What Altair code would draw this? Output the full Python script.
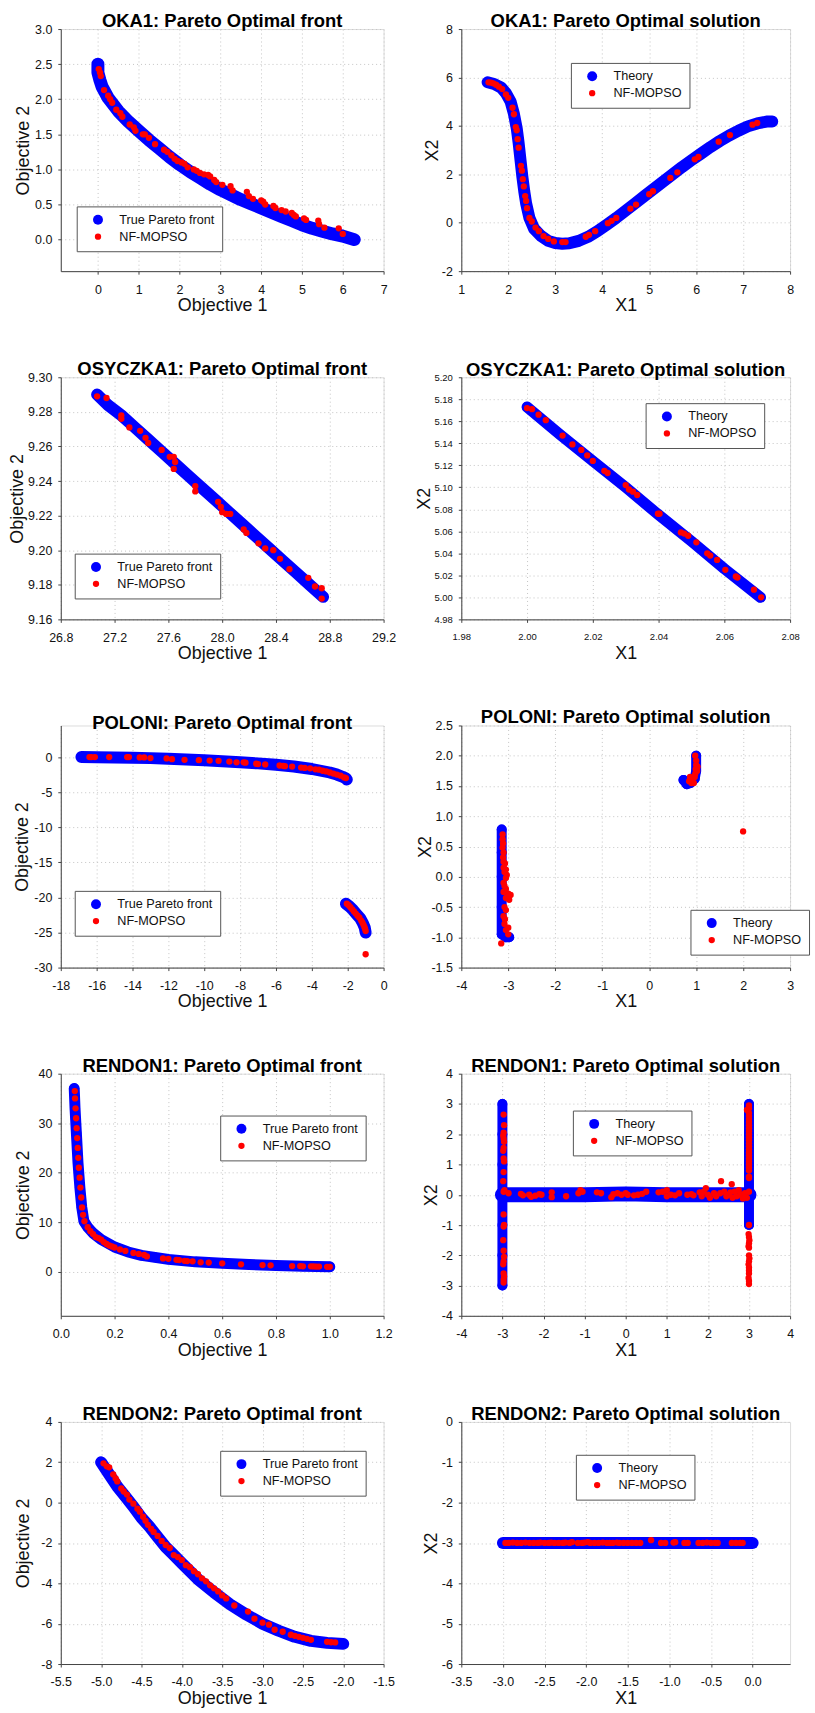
import altair as alt
import pandas as pd

FONT = "Liberation Sans"
BLUE = "#0000ff"
RED = "#ff0000"

# ---------------- data ----------------
# OKA1 front
OKA1F_TX = [0.0, 0.0, 0.05, 0.1, 0.25, 0.5, 0.75, 1.0, 1.25, 1.5, 1.75, 2.0, 2.25, 2.5, 2.75, 3.0, 3.25,
            3.5, 3.75, 4.0, 4.25, 4.5, 4.75, 5.0, 5.25, 5.5, 5.75, 6.0, 6.28]
OKA1F_TY = [2.5, 2.38, 2.27, 2.18, 2.02, 1.83, 1.68, 1.55, 1.42, 1.3, 1.18, 1.07, 0.97, 0.88, 0.79, 0.71, 0.64,
            0.57, 0.51, 0.45, 0.39, 0.33, 0.27, 0.21, 0.16, 0.12, 0.08, 0.05, 0.0]
OKA1F_TS = [0] * len(OKA1F_TX)
OKA1F_RX = [0.02, 0.05, 0.07, 0.15, 0.25, 0.3, 0.35, 0.45, 0.55, 0.6, 0.78, 0.88, 0.92, 1.1, 1.15, 1.25, 1.4,
            1.62, 1.7, 1.8, 1.88, 1.95, 2.05, 2.12, 2.2, 2.35, 2.42, 2.5, 2.6, 2.7, 2.75, 2.85, 2.9, 3.05,
            3.25, 3.3, 3.65, 3.7, 3.8, 4.0, 4.05, 4.1, 4.3, 4.35, 4.5, 4.6, 4.75, 4.8, 4.85, 5.05, 5.1,
            5.4, 5.42, 5.55, 5.9, 6.0]
OKA1F_RY = [2.43, 2.38, 2.33, 2.13, 2.05, 2.0, 1.95, 1.85, 1.8, 1.75, 1.64, 1.6, 1.55, 1.5, 1.5, 1.45, 1.36,
            1.28, 1.25, 1.2, 1.15, 1.12, 1.1, 1.08, 1.03, 1.0, 0.98, 0.95, 0.93, 0.92, 0.9, 0.85, 0.82, 0.78,
            0.76, 0.7, 0.68, 0.62, 0.58, 0.56, 0.54, 0.5, 0.48, 0.45, 0.42, 0.4, 0.38, 0.35, 0.33, 0.3, 0.28,
            0.27, 0.22, 0.17, 0.16, 0.08]

# OKA1 solution
OKA1S_TX = [1.56, 1.7, 1.85, 1.95, 2.05, 2.12, 2.18, 2.22, 2.26, 2.3, 2.34, 2.38, 2.45, 2.55, 2.7, 2.85, 3.0,
            3.15, 3.3, 3.5, 3.7, 3.9, 4.1, 4.3, 4.5, 4.7, 4.9, 5.1, 5.3, 5.5, 5.7, 5.9, 6.1, 6.3, 6.5, 6.7,
            6.9, 7.1, 7.3, 7.5, 7.62]
OKA1S_TY = [5.8, 5.73, 5.58, 5.35, 5.0, 4.5, 3.9, 3.3, 2.6, 1.9, 1.3, 0.8, 0.2, -0.25, -0.55, -0.75, -0.84,
            -0.87, -0.85, -0.75, -0.58, -0.35, -0.08, 0.2, 0.5, 0.8, 1.1, 1.4, 1.7, 2.0, 2.3, 2.58, 2.85, 3.12,
            3.37, 3.6, 3.8, 3.98, 4.1, 4.18, 4.18]
OKA1S_TS = [0] * len(OKA1S_TX)
OKA1S_RX = [1.58, 1.63, 1.68, 1.74, 1.8, 1.87, 1.95, 2.0, 2.09, 2.12, 2.16, 2.18, 2.2, 2.22, 2.27, 2.29, 2.31,
            2.33, 2.36, 2.38, 2.4, 2.45, 2.5, 2.58, 2.65, 2.75, 2.85, 2.97, 3.15, 3.22, 3.65, 3.72, 3.85,
            4.12, 4.2, 4.3, 4.6, 4.72, 5.0, 5.08, 5.45, 5.6, 5.97, 6.05, 6.48, 6.72, 7.2, 7.3]
OKA1S_RY = [5.8, 5.79, 5.76, 5.7, 5.62, 5.52, 5.3, 5.16, 4.75, 4.48, 3.95, 3.82, 3.45, 3.1, 2.35, 2.15, 1.8,
            1.5, 1.1, 0.9, 0.6, 0.2, 0.05, -0.2, -0.35, -0.55, -0.67, -0.77, -0.8, -0.8, -0.58, -0.5, -0.35,
            -0.02, 0.08, 0.2, 0.58, 0.75, 1.18, 1.3, 1.85, 2.08, 2.62, 2.72, 3.35, 3.62, 4.05, 4.12]

# OSYCZKA1 front
OSYF_TX = [27.07, 27.15, 27.25, 27.35, 27.45, 27.55, 27.65, 27.75, 27.85, 27.95, 28.05, 28.15, 28.25, 28.35,
           28.45, 28.55, 28.65, 28.75]
OSYF_TY = [9.290, 9.284, 9.278, 9.271, 9.264, 9.257, 9.250, 9.243, 9.236, 9.229, 9.222, 9.215, 9.208, 9.201,
           9.194, 9.187, 9.180, 9.173]
OSYF_TS = [0] * len(OSYF_TX)
OSYF_RX = [27.07, 27.14, 27.25, 27.25, 27.31, 27.39, 27.43, 27.45, 27.55, 27.61, 27.64, 27.65, 27.64, 27.8,
           27.8, 27.97, 27.99, 28.0, 28.03, 28.06, 28.16, 28.18, 28.27, 28.32, 28.38, 28.43, 28.5, 28.64,
           28.69, 28.74, 28.74]
OSYF_RY = [9.289, 9.288, 9.278, 9.276, 9.271, 9.269, 9.265, 9.262, 9.258, 9.254, 9.254, 9.251, 9.247, 9.237,
           9.234, 9.228, 9.225, 9.222, 9.221, 9.221, 9.212, 9.210, 9.204, 9.201, 9.200, 9.195, 9.189, 9.184,
           9.179, 9.178, 9.172]

# OSYCZKA1 solution
OSYS_TX = [2.0, 2.01, 2.02, 2.03, 2.04, 2.05, 2.06, 2.071]
OSYS_TY = [5.173, 5.148, 5.124, 5.100, 5.075, 5.051, 5.026, 5.0]
OSYS_TS = [0] * len(OSYS_TX)
OSYS_RX = [2.0, 2.0015, 2.0035, 2.0057, 2.0108, 2.0138, 2.0165, 2.0183, 2.0200, 2.0235, 2.0245, 2.0300,
           2.0310, 2.0322, 2.0335, 2.0398, 2.0403, 2.0468, 2.0478, 2.0490, 2.0515, 2.0548, 2.0557, 2.0578,
           2.0603, 2.0635, 2.0640, 2.0690, 2.0712]
OSYS_RY = [5.172, 5.171, 5.166, 5.161, 5.147, 5.139, 5.134, 5.129, 5.124, 5.115, 5.113, 5.102, 5.098, 5.096,
           5.093, 5.076, 5.076, 5.059, 5.058, 5.056, 5.050, 5.040, 5.038, 5.034, 5.025, 5.019, 5.018, 5.007,
           5.000]

# POLONI front
POLF_TX = [-16.85, -16, -15, -14, -13, -12, -11, -10, -9, -8, -7, -6, -5, -4, -3.5, -3, -2.6, -2.3, -2.1, -2.05,
           -2.1, -1.9, -1.7, -1.5, -1.3, -1.15, -1.05, -1.0]
POLF_TY = [0.0, -0.02, -0.05, -0.1, -0.15, -0.25, -0.35, -0.45, -0.6, -0.75, -0.9, -1.1, -1.35, -1.7, -1.95,
           -2.2, -2.5, -2.8, -3.05, -3.2,
           -20.9, -21.3, -21.8, -22.4, -23.0, -23.7, -24.3, -25.0]
POLF_TS = [0] * 20 + [1] * 8
POLF_RX = [-16.4, -16.3, -16.1, -15.3, -14.3, -14.2, -13.6, -13.35, -13.0, -12.1, -11.8, -11.1, -10.3, -9.7,
           -9.2, -8.6, -8.2, -7.8, -7.7, -7.1, -7.0, -6.6, -5.8, -5.6, -5.5, -5.1, -4.6, -4.4, -4.1, -3.8,
           -3.6, -3.4, -3.2, -3.0, -2.8, -2.6, -2.4, -2.2, -2.1,
           -2.05, -1.95, -1.85, -1.75, -1.65, -1.55, -1.45, -1.35, -1.25, -1.18, -1.12, -1.07, -1.03, -1.0,
           -1.0]
POLF_RY = [0.0, 0.0, 0.0, 0.0, 0.0, 0.0, -0.05, -0.05, -0.15, -0.2, -0.3, -0.4, -0.45, -0.5, -0.55, -0.65,
           -0.75, -0.75, -0.8, -0.95, -1.0, -1.05, -1.2, -1.25, -1.3, -1.35, -1.5, -1.55, -1.6, -1.75, -1.8,
           -1.95, -2.05, -2.2, -2.35, -2.5, -2.65, -2.9, -3.0,
           -20.9, -21.1, -21.4, -21.7, -22.0, -22.3, -22.6, -22.9, -23.3, -23.6, -23.9, -24.2, -24.5, -24.8,
           -28.1]

# POLONI solution
POLS_TX = [-3.14, -3.14, -3.14, -3.14, -3.14, -3.05, -2.98, 0.73, 0.8, 0.88, 0.97, 1.0, 1.0]
POLS_TY = [0.78, 0.4, 0.0, -0.5, -0.95, -1.0, -1.0, 1.6, 1.53, 1.55, 1.62, 1.75, 2.0]
POLS_TS = [0] * 7 + [1] * 6
POLS_RX = [-3.12, -3.12, -3.11, -3.12, -3.1, -3.11, -3.1, -3.07, -3.1, -3.05, -3.08, -3.03, -3.05, -3.1, -3.08,
           -3.05, -3.1, -3.0, -2.95, -3.05, -2.98, -3.08, -3.05, -3.1, -3.07, -3.08, -3.0, -3.05, -3.0, -3.15,
           0.85, 0.88, 0.92, 0.95, 0.97, 0.98, 0.99, 1.0, 1.0, 0.98, 1.02, 0.9, 0.87, 1.03, 2.0]
POLS_RY = [0.7, 0.62, 0.55, 0.48, 0.4, 0.32, 0.25, 0.22, 0.15, 0.12, 0.08, 0.03, -0.02, -0.1, -0.15, -0.2,
           -0.25, -0.28, -0.3, -0.35, -0.38, -0.5, -0.55, -0.65, -0.7, -0.78, -0.84, -0.88, -0.95, -1.1,
           1.58, 1.6, 1.62, 1.55, 1.65, 1.7, 1.78, 1.85, 1.92, 2.0, 1.75, 1.55, 1.65, 1.82, 0.75]

# RENDON1 front
REN1F_TX = [0.05, 0.053, 0.058, 0.064, 0.071, 0.078, 0.086, 0.1, 0.12, 0.15, 0.2, 0.25, 0.3, 0.35, 0.4, 0.5,
            0.6, 0.7, 0.8, 0.9, 1.0]
REN1F_TY = [37.0, 33.0, 28.0, 22.0, 17.0, 13.0, 10.2, 9.0, 7.8, 6.5, 5.0, 4.0, 3.3, 2.9, 2.5, 2.0, 1.7, 1.45,
            1.25, 1.1, 1.0]
REN1F_TS = [0] * len(REN1F_TX)
REN1F_RX = [0.052, 0.053, 0.055, 0.057, 0.059, 0.061, 0.063, 0.065, 0.067, 0.07, 0.073, 0.076, 0.079, 0.083,
            0.088, 0.1, 0.11, 0.12, 0.13, 0.14, 0.15, 0.16, 0.17, 0.18, 0.19, 0.2, 0.22, 0.24, 0.27, 0.29,
            0.31, 0.32, 0.38, 0.4, 0.43, 0.44, 0.46, 0.47, 0.49, 0.52, 0.55, 0.6, 0.67, 0.75, 0.78, 0.86,
            0.89, 0.9, 0.93, 0.94, 0.95, 0.96, 0.99, 1.0]
REN1F_RY = [36.5, 35.0, 33.0, 31.0, 29.0, 27.0, 25.0, 23.0, 21.0, 19.0, 17.0, 15.0, 13.0, 11.5, 10.2, 9.0,
            8.2, 7.6, 7.0, 6.8, 6.5, 6.0, 5.6, 5.3, 5.1, 4.9, 4.5, 4.2, 3.8, 3.6, 3.4, 3.1, 2.7, 2.6, 2.4,
            2.35, 2.2, 2.15, 2.1, 1.9, 1.85, 1.7, 1.5, 1.35, 1.3, 1.15, 1.15, 1.1, 1.1, 1.07, 1.05, 1.05, 1.0,
            1.0]

# RENDON1 solution
REN1S_TX = [-3, -3, -3, -3, -3, -3, -3,
            -3, -2, -1, 0, 1, 2, 3,
            3, 3, 3, 3, 3]
REN1S_TY = [-3, -2, -1, 0, 1, 2, 3,
            0, 0, 0, 0.03, 0, 0, 0,
            -1, 0, 1, 2, 3]
REN1S_TS = [0] * 7 + [1] * 7 + [2] * 5
REN1S_RX = ([-2.97, -2.96, -2.97, -2.98, -2.97, -2.96, -2.97, -2.98, -2.97, -2.96, -2.97, -2.98, -2.95,
             -2.97, -2.97, -2.96, -2.97, -2.98, -2.97, -2.96, -2.97, -2.98, -2.97, -2.96, -2.97, -2.97]
            + [-2.85, -2.55, -2.5, -2.35, -2.3, -2.2, -2.1, -2.05, -1.8, -1.8, -1.45, -1.15, -1.1, -1.05,
               -0.7, -0.6, -0.35, -0.3, -0.2, -0.1, 0.0, 0.05, 0.2, 0.3, 0.4, 0.5, 0.8, 0.9, 1.0, 1.0, 1.1,
               1.2, 1.3, 1.5, 1.6, 1.65, 1.8, 1.85, 1.9, 1.95, 2.0, 2.05, 2.15, 2.2, 2.3, 2.32, 2.4, 2.45,
               2.5, 2.55, 2.58, 2.6, 2.65, 2.7, 2.75, 2.8, 2.85, 2.9, 2.95]
            + [3.0, 3.0, 2.95, 3.0, 3.0, 3.0, 3.0, 3.0, 3.0, 3.0, 3.0, 3.0, 3.0, 3.0, 3.0, 3.0, 3.0, 3.0,
               3.0, 3.0, 3.0, 3.0, 3.0, 3.0, 3.0, 3.0,
               3.0, 2.99, 3.0, 3.01, 3.0, 2.99, 3.0, 3.0, 3.01, 3.0, 2.99, 3.0, 3.0, 3.0, 2.99, 3.0, 3.0])
REN1S_RY = ([2.65, 2.3, 2.05, 1.95, 1.85, 1.75, 1.55, 1.45, 1.2, 1.1, 0.75, 0.45, 0.15, 0.1, -0.65, -1.0,
             -1.05, -1.5, -1.85, -2.05, -2.2, -2.3, -2.6, -2.7, -2.8, -2.9]
            + [0.05, 0.03, -0.02, 0.0, -0.07, -0.03, 0.02, 0.0, 0.08, -0.08, -0.05, 0.05, 0.15, 0.1, 0.08,
               0.05, -0.08, 0.02, 0.05, 0.0, 0.05, 0.0, -0.02, 0.0, 0.03, 0.1, 0.08, 0.1, 0.15, -0.05, 0.0,
               -0.02, 0.05, 0.0, 0.02, -0.02, 0.08, -0.05, 0.1, 0.22, 0.0, -0.1, 0.05, -0.05, 0.05, 0.45,
               0.1, -0.05, 0.0, 0.08, 0.35, -0.1, 0.1, -0.05, 0.15, 0.0, -0.12, 0.05, -0.1]
            + [2.95, 2.85, 2.8, 2.7, 2.6, 2.5, 2.4, 2.3, 2.2, 2.1, 2.0, 1.9, 1.8, 1.7, 1.6, 1.5, 1.4, 1.3,
               1.2, 1.1, 1.0, 0.9, 0.8, 0.6, 0.55, 0.1,
               -1.0, -1.3, -1.4, -1.5, -1.6, -1.7, -1.75, -2.0, -2.1, -2.2, -2.3, -2.4, -2.5, -2.6, -2.75,
               -2.85, -2.95])

# RENDON2 front
REN2F_TX = [-5.0, -4.9, -4.8, -4.7, -4.6, -4.5, -4.4, -4.3, -4.2, -4.1, -4.0, -3.8, -3.6, -3.4, -3.2, -3.0,
            -2.8, -2.6, -2.4, -2.2, -2.0]
REN2F_TY = [2.0, 1.4, 0.8, 0.3, -0.2, -0.75, -1.2, -1.7, -2.2, -2.6, -3.0, -3.8, -4.45, -5.05, -5.55, -6.0,
            -6.35, -6.65, -6.85, -6.95, -7.0]
REN2F_TS = [0] * len(REN2F_TX)
REN2F_RX = [-4.97, -4.93, -4.9, -4.85, -4.82, -4.8, -4.75, -4.72, -4.68, -4.65, -4.6, -4.55, -4.52, -4.48,
            -4.45, -4.42, -4.38, -4.35, -4.3, -4.25, -4.2, -4.15, -4.1, -4.05, -4.0, -3.95, -3.9, -3.85, -3.8,
            -3.75, -3.7, -3.65, -3.6, -3.55, -3.5, -3.45, -3.35, -3.18, -3.1, -3.0, -2.92, -2.85, -2.75,
            -2.65, -2.6, -2.55, -2.5, -2.45, -2.4, -2.2, -2.15, -2.1]
REN2F_RY = [1.95, 1.8, 1.75, 1.4, 1.2, 1.05, 0.7, 0.55, 0.4, 0.15, -0.05, -0.3, -0.45, -0.7, -0.9, -1.1,
            -1.3, -1.45, -1.65, -1.9, -2.1, -2.25, -2.6, -2.7, -2.85, -3.1, -3.2, -3.4, -3.55, -3.75, -3.9,
            -4.1, -4.25, -4.4, -4.6, -4.75, -5.1, -5.4, -5.75, -5.95, -6.05, -6.3, -6.4, -6.55, -6.6, -6.65,
            -6.7, -6.75, -6.8, -6.9, -6.92, -6.93]

# RENDON2 solution
REN2S_TX = [-3.0, -2.5, -2.0, -1.5, -1.0, -0.5, 0.0]
REN2S_TY = [-3.0, -3.0, -3.0, -3.0, -3.0, -3.0, -3.0]
REN2S_TS = [0] * len(REN2S_TX)
REN2S_RX = [-2.97, -2.93, -2.88, -2.83, -2.78, -2.73, -2.68, -2.63, -2.58, -2.55, -2.5, -2.45, -2.42, -2.38,
            -2.33, -2.28, -2.25, -2.2, -2.17, -2.1, -2.05, -2.02, -1.98, -1.95, -1.9, -1.85, -1.8, -1.75,
            -1.72, -1.68, -1.63, -1.6, -1.55, -1.5, -1.45, -1.4, -1.35, -1.22, -1.1, -1.05, -0.95, -0.93,
            -0.82, -0.78, -0.65, -0.6, -0.55, -0.5, -0.45, -0.42, -0.25, -0.2, -0.15, -0.12]
REN2S_RY = [-3.0, -3.0, -2.99, -3.0, -3.0, -2.99, -3.0, -3.0, -3.0, -2.99, -3.0, -3.0, -2.99, -3.0, -3.0,
            -3.0, -2.99, -3.0, -2.98, -3.0, -3.0, -2.99, -2.98, -3.0, -3.0, -3.0, -2.99, -3.0, -3.0, -3.0,
            -2.99, -3.0, -3.0, -3.0, -3.0, -3.0, -3.0, -2.93, -3.0, -3.0, -2.99, -2.98, -3.0, -3.0, -3.0,
            -3.0, -2.99, -3.0, -3.0, -3.0, -3.0, -3.0, -3.0, -3.0]

LEFT_W = 324
RIGHT_W = 330
H = 243
MINUS_FIX = "replace(datum.label, '\u2212', '-')"


def make_axis(title, values, fmt, is_x, width, lab, ytx):
    common = dict(
        title=title, values=values, format=fmt, labelExpr=MINUS_FIX,
        grid=True, gridDash=[1, 3], gridColor="#c4c4c4", gridWidth=1,
        domainColor="#444", tickColor="#444", tickSize=3,
        labelFont=FONT, labelFontSize=lab, labelColor="#111",
        labelFlush=False, labelOverlap=False,
        titleFont=FONT, titleFontSize=18, titleFontWeight="normal", titleColor="#111",
    )
    if is_x:
        return alt.Axis(labelPadding=9, titleX=width / 2, titleY=39.5, titleBaseline="alphabetic",
                        titleAlign="center", **common)
    return alt.Axis(labelPadding=6, titleX=ytx, titleY=H / 2,
                    titleBaseline="alphabetic", titleAlign="center", titleAngle=270, **common)


def panel(title, tname, tx, ty, ts, widths, rx, ry, xdom, xvals, xfmt, xtitle,
          ydom, yvals, yfmt, ytitle, lx, ly, width, lab=12.5, ytx=-32):
    n = len(tx)
    line_df = pd.DataFrame({"x": tx, "y": ty, "seg": ts, "i": list(range(n)),
                            "w": [widths[s] for s in ts]})
    pts_df = pd.DataFrame({"x": list(tx) + list(rx), "y": list(ty) + list(ry),
                           "s": [tname] * n + ["NF-MOPSO"] * len(rx)})
    xs = alt.Scale(domain=xdom, nice=False, zero=False)
    ys = alt.Scale(domain=ydom, nice=False, zero=False)
    xax = make_axis(xtitle, xvals, xfmt, True, width, lab, ytx)
    yax = make_axis(ytitle, yvals, yfmt, False, width, lab, ytx)
    dom = [tname, "NF-MOPSO"]
    leg = alt.Legend(orient="none", legendX=lx, legendY=ly, title=None, fillColor="white",
                     strokeColor="#555", padding=7, symbolOffset=8, labelFont=FONT,
                     labelFontSize=12.7, labelColor="#111", labelOffset=15, rowPadding=3,
                     symbolType="circle", symbolStrokeWidth=0, symbolOpacity=1)
    line = alt.Chart(line_df).mark_line(color=BLUE, strokeCap="round", strokeJoin="round").encode(
        x=alt.X("x:Q", scale=xs, axis=xax),
        y=alt.Y("y:Q", scale=ys, axis=yax),
        detail="seg:N",
        order="i:Q",
        strokeWidth=alt.StrokeWidth("w:Q", scale=None, legend=None),
    )
    pts = alt.Chart(pts_df).mark_circle(opacity=1).encode(
        x=alt.X("x:Q", scale=xs, axis=xax),
        y=alt.Y("y:Q", scale=ys, axis=yax),
        color=alt.Color("s:N", scale=alt.Scale(domain=dom, range=[BLUE, RED]), legend=leg),
        size=alt.Size("s:N", scale=alt.Scale(domain=dom, range=[100, 40]), legend=leg),
    )
    return alt.layer(line, pts).properties(
        width=width, height=H,
        title=alt.TitleParams(text=title, font=FONT, fontSize=18.5, fontWeight="bold", color="black",
                              anchor="middle", frame="group", offset=-7.5),
    )


p1 = panel("OKA1: Pareto Optimal front", "True Pareto front", OKA1F_TX, OKA1F_TY, OKA1F_TS, [13],
           OKA1F_RX, OKA1F_RY, [-0.91, 7], list(range(0, 8)), "d", "Objective 1",
           [-0.45, 3.0], [0, 0.5, 1.0, 1.5, 2.0, 2.5, 3.0], ".1f", "Objective 2", 16, 178, LEFT_W)
p2 = panel("OKA1: Pareto Optimal solution", "Theory", OKA1S_TX, OKA1S_TY, OKA1S_TS, [12],
           OKA1S_RX, OKA1S_RY, [1, 8], list(range(1, 9)), "d", "X1",
           [-2, 8], [-2, 0, 2, 4, 6, 8], "d", "X2", 110, 34, RIGHT_W, ytx=-24)
p3 = panel("OSYCZKA1: Pareto Optimal front", "True Pareto front", OSYF_TX, OSYF_TY, OSYF_TS, [12],
           OSYF_RX, OSYF_RY, [26.8, 29.2], [26.8, 27.2, 27.6, 28.0, 28.4, 28.8, 29.2], ".1f", "Objective 1",
           [9.16, 9.30], [9.16, 9.18, 9.20, 9.22, 9.24, 9.26, 9.28, 9.30], ".2f", "Objective 2",
           14, 177, LEFT_W, ytx=-38)
p4 = panel("OSYCZKA1: Pareto Optimal solution", "Theory", OSYS_TX, OSYS_TY, OSYS_TS, [11],
           OSYS_RX, OSYS_RY, [1.98, 2.08], [1.98, 2.00, 2.02, 2.04, 2.06, 2.08], ".2f", "X1",
           [4.98, 5.20], [4.98, 5.00, 5.02, 5.04, 5.06, 5.08, 5.10, 5.12, 5.14, 5.16, 5.18, 5.20], ".2f",
           "X2", 185, 26, RIGHT_W, lab=9.5, ytx=-32)
p5 = panel("POLONI: Pareto Optimal front", "True Pareto front", POLF_TX, POLF_TY, POLF_TS, [12, 12],
           POLF_RX, POLF_RY, [-18, 0], list(range(-18, 1, 2)), "d", "Objective 1",
           [-30, 4.5], list(range(-30, 1, 5)), "d", "Objective 2", 14, 166, LEFT_W, ytx=-33)
p6 = panel("POLONI: Pareto Optimal solution", "Theory", POLS_TX, POLS_TY, POLS_TS, [10, 10],
           POLS_RX, POLS_RY, [-4, 3], list(range(-4, 4)), "d", "X1",
           [-1.5, 2.5], [-1.5, -1.0, -0.5, 0.0, 0.5, 1.0, 1.5, 2.0, 2.5], ".1f", "X2", 230, 185, RIGHT_W,
           ytx=-31)
p7 = panel("RENDON1: Pareto Optimal front", "True Pareto front", REN1F_TX, REN1F_TY, REN1F_TS, [11],
           REN1F_RX, REN1F_RY, [0, 1.2], [0.0, 0.2, 0.4, 0.6, 0.8, 1.0, 1.2], ".1f", "Objective 1",
           [-8.9, 40], [0, 10, 20, 30, 40], "d", "Objective 2", 160, 42, LEFT_W)
p8 = panel("RENDON1: Pareto Optimal solution", "Theory", REN1S_TX, REN1S_TY, REN1S_TS, [10, 15, 10],
           REN1S_RX, REN1S_RY, [-4, 4], list(range(-4, 5)), "d", "X1",
           [-4, 4], list(range(-4, 5)), "d", "X2", 112, 37, RIGHT_W, ytx=-25)
p9 = panel("RENDON2: Pareto Optimal front", "True Pareto front", REN2F_TX, REN2F_TY, REN2F_TS, [12],
           REN2F_RX, REN2F_RY, [-5.5, -1.5], [-5.5, -5.0, -4.5, -4.0, -3.5, -3.0, -2.5, -2.0, -1.5], ".1f",
           "Objective 1", [-8, 4], [-8, -6, -4, -2, 0, 2, 4], "d", "Objective 2", 160, 29, LEFT_W)
p10 = panel("RENDON2: Pareto Optimal solution", "Theory", REN2S_TX, REN2S_TY, REN2S_TS, [12],
            REN2S_RX, REN2S_RY, [-3.5, 0.45], [-3.5, -3.0, -2.5, -2.0, -1.5, -1.0, -0.5, 0.0], ".1f", "X1",
            [-6, 0], [-6, -5, -4, -3, -2, -1, 0], "d", "X2", 115, 33, RIGHT_W, ytx=-25)

chart = alt.concat(
    p1, p2, p3, p4, p5, p6, p7, p8, p9, p10,
    columns=2,
    spacing=alt.RowColnumber(row=106.5, column=78),
    bounds="flush",
    padding={"left": 8, "top": 8, "right": 5, "bottom": 2},
).resolve_scale(color="independent", size="independent", x="independent", y="independent").configure_view(
    stroke="#777", strokeWidth=1
).configure(background="white")

chart.save("out.html", embed_options={"renderer": "svg", "actions": False})
